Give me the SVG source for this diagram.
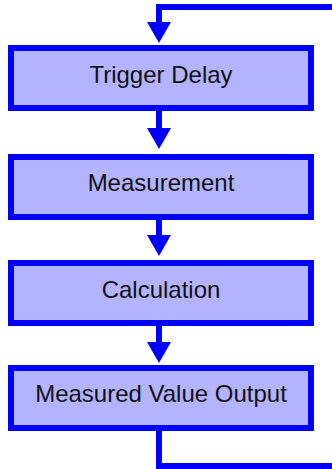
<svg xmlns="http://www.w3.org/2000/svg" width="332" height="469" viewBox="0 0 332 469">
<style>
.box{fill:#b3b3ff;stroke:#0000ff;stroke-width:6}
.lbl{font-family:"Liberation Sans",Arial,sans-serif;font-size:24px;fill:#111;text-anchor:middle}
.ln{fill:none;stroke:#0000ff;stroke-width:6;stroke-linejoin:miter}
.ah{fill:#0000ff}
</style>
<rect width="332" height="469" fill="#fff"/>
<g id="connectors">
<polyline class="ln" points="332,7 159,7 159,24"/>
<polygon class="ah" points="147,22 171,22 159,43"/>
<line class="ln" x1="159" y1="111" x2="159" y2="130"/>
<polygon class="ah" points="147,128 171,128 159,149"/>
<line class="ln" x1="159" y1="220" x2="159" y2="237"/>
<polygon class="ah" points="147,235 171,235 159,256"/>
<line class="ln" x1="159" y1="326" x2="159" y2="344"/>
<polygon class="ah" points="147,342 171,342 159,363"/>
<polyline class="ln" points="159,431 159,466 332,466"/>
</g>
<g id="trigger-delay"><rect class="box" x="11" y="48" width="300" height="60"/><text class="lbl" x="161" y="83">Trigger Delay</text></g>
<g id="measurement"><rect class="box" x="11" y="157" width="300" height="60"/><text class="lbl" x="161" y="191">Measurement</text></g>
<g id="calculation"><rect class="box" x="11" y="263" width="300" height="60"/><text class="lbl" x="161" y="298">Calculation</text></g>
<g id="output"><rect class="box" x="11" y="368" width="300" height="60"/><text class="lbl" x="161" y="402">Measured Value Output</text></g>
</svg>
